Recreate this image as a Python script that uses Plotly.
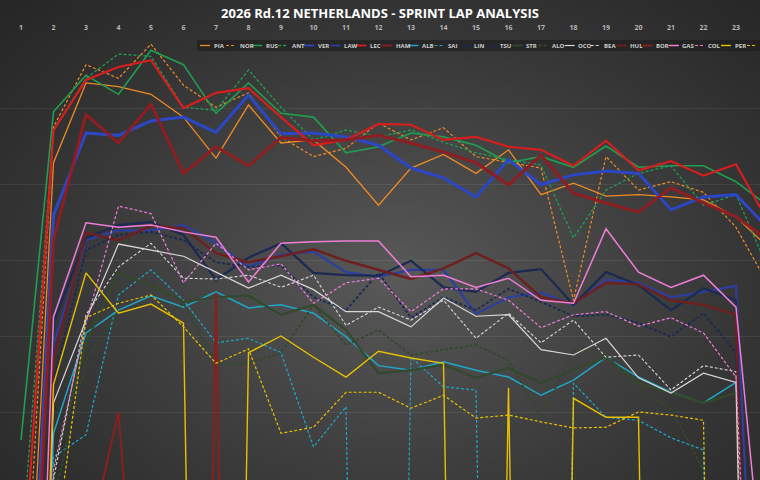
import base64
import struct
import zlib

import numpy as np
import plotly.graph_objects as go

# sprint lap analysis - lap times in seconds
# 100.0 = pit / very slow lap, None = no lap recorded
laps = list(range(1, 25))
drivers = ["PIA", "NOR", "RUS", "ANT", "VER", "LAW", "LEC", "HAM", "ALB", "SAI", "LIN",
           "TSU", "STR", "ALO", "OCO", "BEA", "HUL", "BOR", "GAS", "COL", "PER", "BOT"]

pia = [80.84, 72.72, 71.67, 71.72, 71.82, 72.12, 72.66, 71.96, 72.46, 72.42, 72.78, 73.28,
       72.79, 72.61, 72.86, 72.55, 73.14, 72.99, 73.16, 73.14, 73.17, 73.21, 73.43, 73.84]
nor = [79.57, 72.25, 71.43, 71.61, 71.16, 71.70, 71.99, 71.80, 72.38, 72.64, 72.53, 72.20,
       72.42, 72.26, 72.64, 72.72, 72.79, 74.53, 72.64, 73.08, 72.97, 73.11, 73.57, 74.33]
rus = [76.37, 72.05, 71.57, 71.82, 71.24, 71.43, 72.07, 71.67, 72.07, 72.12, 72.59, 72.51,
       72.33, 72.38, 72.49, 72.72, 72.64, 72.78, 72.50, 72.78, 72.76, 72.76, 72.97, 73.29]
ant = [77.91, 72.29, 71.61, 71.29, 71.32, 71.99, 72.03, 71.50, 71.99, 72.42, 72.29, 72.38,
       72.29, 72.45, 72.59, 72.68, 72.75, 73.71, 73.08, 72.86, 72.76, 73.28, 73.14, 74.13]
ver = [81.74, 73.41, 72.33, 72.36, 72.17, 72.12, 72.32, 71.83, 72.34, 72.33, 72.38, 72.49,
       72.79, 72.92, 73.17, 72.68, 73.01, 72.88, 72.83, 72.86, 73.34, 73.17, 73.14, 73.59]
law = [86.8, 75.11, 73.74, 73.61, 73.61, 73.54, 73.78, 74.09, 73.93, 73.89, 74.16, 74.22,
       74.13, 74.13, 74.71, 74.49, 74.43, 74.59, 74.26, 74.30, 74.49, 74.42, 74.34, 83.0]
lec = [78.62, 72.29, 71.63, 71.46, 71.37, 72.00, 71.80, 71.74, 72.12, 72.49, 72.42, 72.21,
       72.22, 72.42, 72.38, 72.51, 72.55, 72.76, 72.43, 72.82, 72.70, 72.89, 72.74, 73.50]
ham = [82.42, 73.74, 72.09, 72.46, 71.95, 72.86, 72.51, 72.76, 72.39, 72.43, 72.42, 72.36,
       72.46, 72.58, 72.72, 73.01, 72.62, 73.12, 73.25, 73.37, 73.05, 73.25, 73.43, 73.74]
alb = [87.8, 76.28, 74.96, 74.66, 74.47, 74.62, 74.42, 74.63, 74.59, 74.70, 75.01, 75.39,
       75.45, 75.34, 75.45, 75.54, 75.78, 75.58, 75.28, 75.54, 75.74, 75.88, 75.61, 90.0]
sai = [88.2, 76.59, 76.30, 74.46, 74.13, 74.53, 75.09, 75.03, 75.22, 76.46, 75.93, 100.0,
       75.28, 75.67, 75.71, 100.0, 100.0, 75.62, 76.07, 76.11, 76.34, 76.50, 100.0, 100.0]
lin = [86.5, 74.83, 73.71, 73.54, 73.50, 73.67, 74.26, 73.97, 73.78, 74.17, 74.20, 74.21,
       74.01, 74.36, 74.42, 74.17, 74.12, 74.59, 74.16, 74.33, 74.66, 74.37, 74.53, 90.0]
tsu = [87.0, 75.58, 73.87, 73.67, 73.63, 73.74, 74.03, 74.09, 74.07, 74.49, 74.66, 74.17,
       74.76, 74.49, 74.66, 74.38, 74.55, 74.74, 74.72, 74.83, 75.01, 74.70, 75.22, 90.0]
stroll = [88.6, 76.76, 75.09, 74.17, 74.33, 74.55, 74.49, 74.47, 74.72, 74.59, 74.92, 75.49,
          75.45, 75.38, 75.55, 75.42, 75.62, 75.45, 75.28, 75.62, 75.75, 75.88, 75.75, 90.0]
alo = [89.0, 77.16, 75.32, 74.66, 74.86, 74.57, 75.36, 75.36, 75.22, 74.59, 75.12, 74.92,
       75.25, 75.18, 75.12, 75.32, 76.08, 75.18, 75.25, 75.67, 75.97, 76.76, 100.0, None]
oco = [87.4, 75.88, 74.79, 73.79, 73.87, 73.95, 74.16, 74.37, 74.20, 74.39, 74.68, 74.68,
       74.88, 74.50, 74.74, 74.72, 75.18, 75.25, 75.03, 75.55, 75.75, 75.49, 75.61, 95.0]
bea = [88.0, 76.89, 74.72, 74.09, 73.78, 74.24, 74.25, 74.20, 74.36, 74.20, 74.86, 74.62,
       74.79, 74.53, 75.03, 74.70, 75.09, 74.79, 75.28, 75.25, 75.71, 75.39, 75.47, 90.0]
hul = [87.2, 75.32, 73.64, 73.74, 73.55, 73.58, 73.91, 74.03, 73.95, 73.86, 74.01, 74.13,
       74.25, 74.11, 73.91, 74.11, 74.49, 74.57, 74.30, 74.32, 74.53, 74.59, 74.72, 90.0]
bor = [100.0, 100.0, 77.86, 76.00, 81.57, 100.0, 74.43, 100.0, None, None, None, None,
       None, None, None, None, None, None, None, None, None, None, None, None]
gas = [86.0, 74.75, 73.51, 73.57, 73.54, 73.63, 73.70, 74.29, 73.78, 73.76, 73.75, 73.75,
       74.22, 74.20, 74.36, 74.24, 74.53, 74.57, 73.59, 74.16, 74.36, 74.20, 74.62, 79.0]
col = [87.5, 76.76, 74.83, 73.29, 73.39, 74.30, 73.78, 74.13, 74.05, 74.57, 74.30, 74.24,
       74.68, 74.38, 74.38, 74.53, 74.89, 74.72, 74.68, 74.87, 74.76, 74.96, 75.54, 85.0]
per = [88.0, 75.64, 74.17, 74.70, 74.58, 74.83, 100.0, 75.22, 75.00, 75.28, 75.54, 75.20,
       75.29, 75.36, 100.0, 75.68, 100.0, 75.82, 76.07, 76.07, 100.0, None, None, None]
bot = [88.5, 77.95, 74.76, 74.57, 74.46, 74.88, 75.36, 75.17, 76.28, 76.20, 75.74, 75.74,
       75.95, 75.78, 76.08, 76.04, 76.13, 76.21, 76.20, 76.00, 76.04, 76.11, 100.0, None]

lap_times = [pia, nor, rus, ant, ver, law, lec, ham, alb, sai, lin,
             tsu, stroll, alo, oco, bea, hul, bor, gas, col, per, bot]

# colour, width, dash
DASH = "3px,2px"
styles = {
    "PIA": ("#f08a24", 1.3, "solid"), "NOR": ("#f08a24", 1.2, DASH),
    "RUS": ("#1f9e52", 1.6, "solid"), "ANT": ("#1f9e52", 1.3, DASH),
    "VER": ("#2b47c6", 3.0, "solid"), "LAW": ("#2c3f9e", 2.2, "solid"),
    "LEC": ("#d61e1e", 2.2, "solid"), "HAM": ("#8e1e22", 3.0, "solid"),
    "ALB": ("#1ea8c8", 1.5, "solid"), "SAI": ("#1ea8c8", 1.2, DASH),
    "LIN": ("#1b2a52", 2.2, "solid"), "TSU": ("#1b2a52", 1.8, DASH),
    "STR": ("#34482e", 2.2, "solid"), "ALO": ("#34482e", 1.8, DASH),
    "OCO": ("#d8d8d8", 1.2, "solid"), "BEA": ("#d8d8d8", 1.1, DASH),
    "HUL": ("#6e1f1f", 2.4, "solid"), "BOR": ("#8a1f1f", 2.0, "solid"),
    "GAS": ("#f07ed8", 1.5, "solid"), "COL": ("#f07ed8", 1.2, DASH),
    "PER": ("#e8c000", 1.4, "solid"), "BOT": ("#e8c000", 1.2, DASH),
}

W, H, TOP = 760, 480, 32


def gradient_png():
    # radial dark-grey background
    h, w = 96, 152
    v, u = np.mgrid[0:h, 0:w]
    u = (u + 0.5) / w
    v = (v + 0.5) / h
    d = np.sqrt(((u - 0.52) / 0.75) ** 2 + ((v - 0.58) / 0.85) ** 2)
    val = 38 + 52 * np.clip(1 - d, 0, 1) ** 1.2
    arr = np.repeat(val[:, :, None], 3, axis=2).astype(np.uint8)
    raw = b"".join(b"\x00" + arr[y].tobytes() for y in range(h))

    def chunk(tag, data):
        c = struct.pack(">I", len(data)) + tag + data
        return c + struct.pack(">I", zlib.crc32(tag + data) & 0xffffffff)

    png = (b"\x89PNG\r\n\x1a\n"
           + chunk(b"IHDR", struct.pack(">IIBBBBB", w, h, 8, 2, 0, 0, 0))
           + chunk(b"IDAT", zlib.compress(raw))
           + chunk(b"IEND", b""))
    return "data:image/png;base64," + base64.b64encode(png).decode()


fig = go.Figure()
for code, times in zip(drivers, lap_times):
    color, width, dash = styles[code]
    fig.add_trace(go.Scatter(
        x=laps, y=times, mode="lines", name=code,
        line=dict(color=color, width=width, dash=dash),
        hovertemplate=code + " lap %{x}: %{y:.2f}s<extra></extra>",
    ))

fig.add_layout_image(
    source=gradient_png(), xref="paper", yref="paper",
    x=0, y=H / (H - TOP), sizex=1, sizey=H / (H - TOP),
    xanchor="left", yanchor="top", sizing="stretch", layer="below",
)

# one-row legend strip (runs off the right edge like the original)
leg_y = (H - 45.5) / (H - TOP)
fig.add_shape(type="rect", xref="paper", yref="paper", layer="above",
              x0=197 / W, x1=1.02, y0=(H - 51) / (H - TOP), y1=(H - 40) / (H - TOP),
              fillcolor="rgba(28,28,28,0.6)", line_width=0)
for i, code in enumerate(drivers):
    color, width, dash = styles[code]
    x0 = 200 + i * 26.05
    fig.add_shape(type="line", xref="paper", yref="paper", layer="above",
                  x0=x0 / W, x1=(x0 + 10) / W, y0=leg_y, y1=leg_y,
                  line=dict(color=color, width=min(width, 1.8), dash=dash))
    if x0 + 12 < W - 12:
        fig.add_annotation(text=code, xref="paper", yref="paper", x=(x0 + 11.5) / W, y=leg_y,
                           xanchor="left", yanchor="middle", showarrow=False,
                           font=dict(family="Open Sans", size=6, color="#cfcfcf", weight="bold"))

fig.update_layout(
    width=W, height=H,
    margin=dict(l=0, r=0, t=TOP, b=0),
    paper_bgcolor="#333333",
    plot_bgcolor="rgba(0,0,0,0)",
    showlegend=False,
    title=dict(text="2026 Rd.12 NETHERLANDS - SPRINT LAP ANALYSIS",
               x=0.5, xanchor="center", y=1 - 13 / H, yref="container", yanchor="middle",
               font=dict(family="Open Sans", size=13, color="white", weight="bold")),
    xaxis=dict(side="top", range=[1 - 21 / 32.5, 1 + 739 / 32.5],
               tickmode="array", tickvals=laps,
               tickfont=dict(family="Open Sans", size=7, color="#b5b5b5", weight="bold"),
               showgrid=False, zeroline=False, showline=False, ticks=""),
    yaxis=dict(range=[71 + (H - TOP) / 76, 71.0], tick0=72, dtick=1,
               showticklabels=False, gridcolor="rgba(255,255,255,0.07)",
               zeroline=False, showline=False),
)

fig.write_html("out.html", config={"displayModeBar": False},
               post_script="document.body.style.margin='0';document.body.style.overflow='hidden';")
